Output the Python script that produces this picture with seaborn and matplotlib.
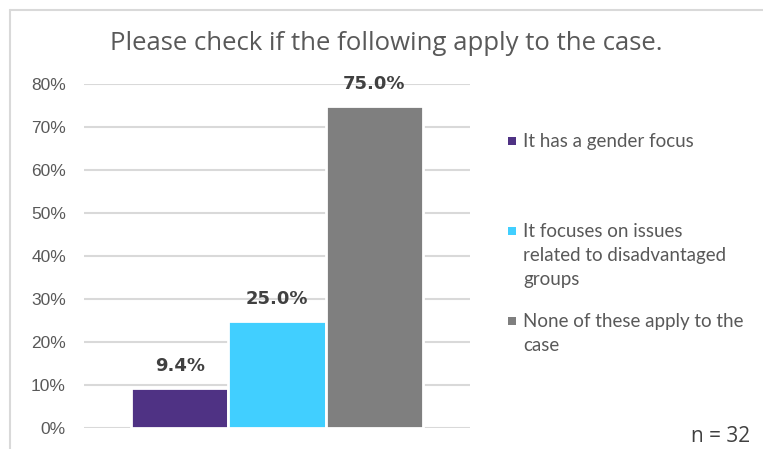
import pandas as pd
import matplotlib.pyplot as plt
import matplotlib.patches as mpatches
import matplotlib.lines as mlines
import seaborn as sns

# data
categories = [
    "It has a gender focus",
    "It focuses on issues\nrelated to disadvantaged\ngroups",
    "None of these apply to the\ncase",
]
values = [0.094, 0.25, 0.75]
colors = ["#4F3284", "#41CFFF", "#7F7F7F"]
y_ticks = [0.0, 0.1, 0.2, 0.3, 0.4, 0.5, 0.6, 0.7, 0.8]
title = "Please check if the following apply to the case."
note = "n = 32"


def main():
    sns.set_theme(style="white")
    plt.rcParams["font.family"] = ["DejaVu Sans"]

    W, H = 763, 449
    fig = plt.figure(figsize=(W / 100, H / 100), dpi=100)
    fig.patch.set_facecolor("white")

    ax = fig.add_axes([84 / W, 1 - 428 / H, (470 - 84) / W, (428 - 84) / H])

    df = pd.DataFrame({"group": [""] * len(values), "category": categories, "value": values})
    sns.barplot(data=df, x="group", y="value", hue="category", hue_order=categories,
                palette=colors, saturation=1, width=0.755, edgecolor="white", linewidth=2,
                legend=False, ax=ax, zorder=3)

    ax.set_ylim(0, 0.8)
    ax.set_xlim(-0.5, 0.5)
    ax.set_yticks(y_ticks)
    ax.set_yticklabels([f"{int(round(t * 100))}%" for t in y_ticks],
                       family=["Liberation Sans", "DejaVu Sans"])
    ax.set_xticks([])
    ax.set_xlabel("")
    ax.set_ylabel("")
    ax.tick_params(axis="y", length=0, pad=13, labelsize=12.5, labelcolor="#595959")
    ax.yaxis.grid(True, color="#D9D9D9", linewidth=1.5, zorder=0)
    ax.set_axisbelow(True)
    for s in ax.spines.values():
        s.set_visible(False)

    for cont in ax.containers:
        ax.bar_label(cont, labels=[f"{v * 100:.1f}%" for v in cont.datavalues],
                     padding=9, fontsize=13, fontweight="bold", color="#404040",
                     clip_on=False)

    fig.text(386 / W, 1 - 43 / H, title, ha="center", va="center",
             fontsize=18.5, color="#595959", family=["Open Sans", "DejaVu Sans"])

    # legend drawn as squares + wrapped text, like the reference layout
    legend_y = [141, 231, 321]
    for lab, col, yy in zip(categories, colors, legend_y):
        fig.patches.append(mpatches.Rectangle((508 / W, 1 - (yy + 4) / H), 8 / W, 8 / H,
                                              transform=fig.transFigure, facecolor=col,
                                              edgecolor="none"))
        fig.text(523 / W, 1 - (yy - 8) / H, lab, ha="left", va="top",
                 fontsize=13.5, color="#595959", linespacing=1.5,
                 family=["Lato", "DejaVu Sans"])

    fig.text(750 / W, 1 - 436 / H, note, ha="right", va="center",
             fontsize=15, color="#404040", family=["Open Sans", "DejaVu Sans"])

    # light frame on top and left edge
    fig.lines.append(mlines.Line2D([10 / W, 1], [1 - 10 / H, 1 - 10 / H],
                                   transform=fig.transFigure, color="#D9D9D9", linewidth=1.5))
    fig.lines.append(mlines.Line2D([10 / W, 10 / W], [0, 1 - 10 / H],
                                   transform=fig.transFigure, color="#D9D9D9", linewidth=1.5))

    fig.savefig("out.png", dpi=100, facecolor="white")
    plt.close(fig)


if __name__ == "__main__":
    main()
